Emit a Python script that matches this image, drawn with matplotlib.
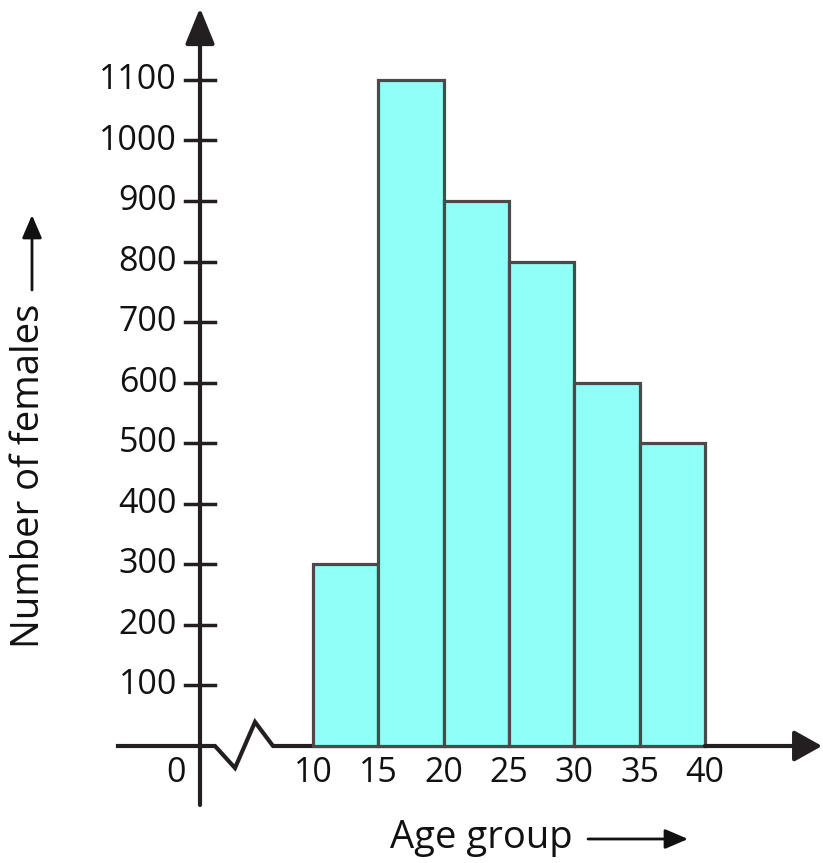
import matplotlib
matplotlib.use("Agg")
import matplotlib.pyplot as plt

# data
age_edges = [10, 15, 20, 25, 30, 35]
bin_width = 5
females = [300, 1100, 900, 800, 600, 500]
y_ticks = [100, 200, 300, 400, 500, 600, 700, 800, 900, 1000, 1100]
x_ticks = [10, 15, 20, 25, 30, 35, 40]

W, H = 823, 863

# pixel -> data helpers (for decorations only)
def px2x(px):
    return 10 + (px - 313) / 13.06

def py2y(py):
    return (746 - py) / 0.6055

plt.rcParams['font.family'] = ['Open Sans', 'DejaVu Sans']
fig = plt.figure(figsize=(W / 100, H / 100), dpi=100)
ax = fig.add_axes([0, 0, 1, 1])
ax.set_xlim(px2x(0), px2x(W))
ax.set_ylim(py2y(H), py2y(0))
ax.axis('off')

axis_col = '#231f20'
fs = 24.5
fs_title = 27.5

# bars
ax.bar(age_edges, females, width=bin_width, align='edge',
       color='#8ffff7', edgecolor='#4a4a4a', linewidth=2.3, zorder=2)

# x axis with break
brk_x = [px2x(118), px2x(215), px2x(235), px2x(255), px2x(273), 40]
brk_y = [0, 0, py2y(768), py2y(722), 0, 0]
ax.plot(brk_x, brk_y, color=axis_col, lw=3, solid_joinstyle='miter', zorder=1)
ax.annotate('', xy=(px2x(822), 0), xytext=(40, 0),
            arrowprops=dict(arrowstyle='-|>,head_length=1.7,head_width=0.95',
                            lw=3, color=axis_col, shrinkA=0, shrinkB=0,
                            mutation_scale=10), zorder=3)

# y axis
ax.annotate('', xy=(px2x(200), py2y(8)), xytext=(px2x(200), py2y(805)),
            arrowprops=dict(arrowstyle='-|>,head_length=2.2,head_width=0.9',
                            lw=3, color=axis_col, shrinkA=0, shrinkB=0,
                            mutation_scale=10), zorder=3)

# y ticks and labels
for t in y_ticks:
    ax.plot([px2x(185), px2x(215)], [t, t], color=axis_col, lw=2.5, zorder=3)
    ax.text(px2x(177), t, str(t), ha='right', va='center', fontsize=fs,
            color='#111111')

# x tick labels
for t in x_ticks:
    ax.text(t, py2y(773), str(t), ha='center', va='center', fontsize=fs,
            color='#111111')
ax.text(px2x(176), py2y(773), '0', ha='center', va='center', fontsize=fs,
        color='#111111')

# axis titles with arrows
ax.text(px2x(481), py2y(838), 'Age group', ha='center', va='center',
        fontsize=fs_title, color='#111111')
ax.annotate('', xy=(px2x(688), py2y(839)), xytext=(px2x(588), py2y(839)),
            arrowprops=dict(arrowstyle='-|>,head_length=1.4,head_width=0.6',
                            lw=2, color='#111111', shrinkA=0, shrinkB=0,
                            mutation_scale=10))

ax.text(px2x(29), py2y(476), 'Number of females', ha='center', va='center',
        rotation=90, fontsize=fs_title, color='#111111')
ax.annotate('', xy=(px2x(32), py2y(215)), xytext=(px2x(32), py2y(290)),
            arrowprops=dict(arrowstyle='-|>,head_length=1.4,head_width=0.6',
                            lw=2, color='#111111', shrinkA=0, shrinkB=0,
                            mutation_scale=10))

fig.savefig('out.png', dpi=100)
